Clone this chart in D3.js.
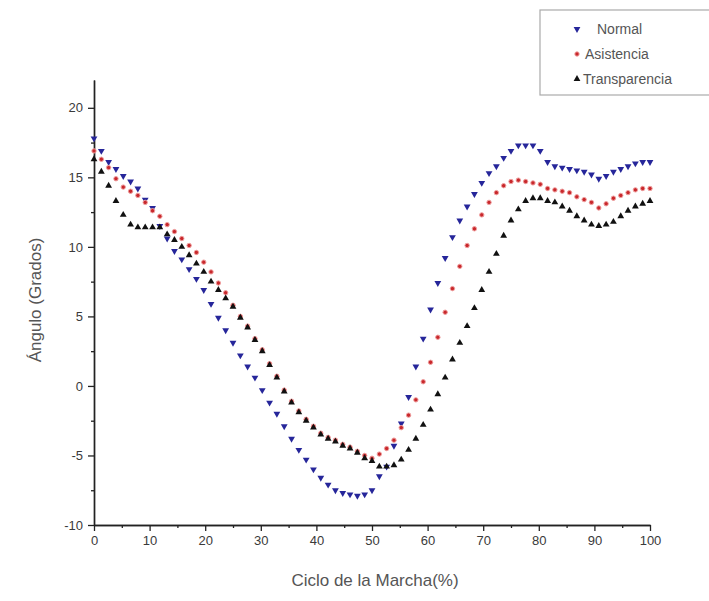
<!DOCTYPE html>
<html>
<head>
<meta charset="utf-8">
<script src="https://cdn.jsdelivr.net/npm/d3@7"></script>
<style>
  html, body { margin: 0; padding: 0; background: #fff; }
  svg { display: block; }
</style>
</head>
<body>
<svg id="chart" width="709" height="601"></svg>
<script>
const cyclePct = [0, 1.32, 2.63, 3.95, 5.26, 6.58, 7.89, 9.21, 10.53, 11.84, 13.16, 14.47, 15.79, 17.11, 18.42, 19.74, 21.05, 22.37, 23.68, 25, 26.32, 27.63, 28.95, 30.26, 31.58, 32.89, 34.21, 35.53, 36.84, 38.16, 39.47, 40.79, 42.11, 43.42, 44.74, 46.05, 47.37, 48.68, 50, 51.32, 52.63, 53.95, 55.26, 56.58, 57.89, 59.21, 60.53, 61.84, 63.16, 64.47, 65.79, 67.11, 68.42, 69.74, 71.05, 72.37, 73.68, 75, 76.32, 77.63, 78.95, 80.26, 81.58, 82.89, 84.21, 85.53, 86.84, 88.16, 89.47, 90.79, 92.11, 93.42, 94.74, 96.05, 97.37, 98.68, 100];

const normal = [17.8, 16.9, 16.1, 15.6, 15.1, 14.7, 14.2, 13.4, 12.8, 11.5, 10.6, 9.7, 9.1, 8.4, 7.7, 6.9, 5.9, 4.9, 4.0, 3.1, 2.2, 1.4, 0.6, -0.3, -1.2, -2.0, -2.9, -3.8, -4.6, -5.3, -6.0, -6.6, -7.1, -7.5, -7.7, -7.8, -7.9, -7.8, -7.5, -6.5, -5.8, -4.3, -2.7, -0.8, 1.4, 3.4, 5.5, 7.4, 9.2, 10.7, 11.9, 12.9, 13.8, 14.6, 15.3, 15.8, 16.4, 16.9, 17.3, 17.3, 17.3, 16.9, 16.1, 15.8, 15.7, 15.6, 15.5, 15.4, 15.2, 14.9, 15.1, 15.4, 15.6, 15.8, 16.0, 16.1, 16.1];

const asistencia = [16.9, 16.3, 15.7, 14.9, 14.3, 14.0, 13.7, 13.2, 12.6, 12.2, 11.6, 11.1, 10.6, 10.1, 9.6, 8.9, 8.2, 7.4, 6.7, 5.8, 5.0, 4.3, 3.4, 2.6, 1.6, 0.7, -0.3, -1.1, -1.8, -2.4, -2.9, -3.4, -3.7, -3.9, -4.2, -4.4, -4.7, -5.0, -5.2, -4.9, -4.5, -3.9, -3.0, -2.1, -1.0, 0.3, 1.7, 3.5, 5.3, 7.0, 8.6, 10.1, 11.3, 12.3, 13.2, 13.9, 14.4, 14.7, 14.8, 14.7, 14.6, 14.5, 14.2, 14.1, 14.0, 13.9, 13.6, 13.4, 13.2, 12.8, 13.1, 13.5, 13.7, 13.9, 14.1, 14.2, 14.2];

const transparencia = [16.3, 15.4, 14.4, 13.3, 12.3, 11.6, 11.4, 11.4, 11.4, 11.4, 10.9, 10.5, 10.0, 9.4, 8.8, 8.2, 7.5, 6.9, 6.3, 5.7, 4.9, 4.2, 3.3, 2.5, 1.5, 0.6, -0.4, -1.2, -1.9, -2.5, -3.0, -3.5, -3.8, -4.0, -4.3, -4.5, -4.8, -5.2, -5.4, -5.8, -5.8, -5.7, -5.3, -4.6, -3.8, -2.8, -1.7, -0.6, 0.6, 1.9, 3.1, 4.3, 5.6, 6.9, 8.2, 9.5, 10.8, 11.9, 12.7, 13.3, 13.5, 13.5, 13.3, 13.2, 12.9, 12.6, 12.2, 11.9, 11.6, 11.5, 11.6, 11.8, 12.2, 12.6, 12.9, 13.1, 13.3];

const seriesNames = ["Normal", "Asistencia", "Transparencia"];
const xMajorTicks = [0, 10, 20, 30, 40, 50, 60, 70, 80, 90, 100];
const xMinorTicks = [5, 15, 25, 35, 45, 55, 65, 75, 85, 95];
const yMajorTicks = [-10, -5, 0, 5, 10, 15, 20];
const yMinorTicks = [-7.5, -2.5, 2.5, 7.5, 12.5, 17.5];

const svg = d3.select("#chart");
const x = d3.scaleLinear().domain([0, 100]).range([94, 650]);
const y = d3.scaleLinear().domain([-10, 22]).range([525, 80]);

const font = "Arial, 'Liberation Sans', sans-serif";
const plainFmt = d => String(d);

// Axes
const xAxisG = svg.append("g").attr("transform", `translate(0,${y(-10)})`)
  .call(d3.axisBottom(x).tickValues(xMajorTicks).tickFormat(plainFmt).tickSize(6).tickPadding(5).tickSizeOuter(0));
const xMinorG = svg.append("g").attr("transform", `translate(0,${y(-10)})`)
  .call(d3.axisBottom(x).tickValues(xMinorTicks).tickSize(3).tickFormat("").tickSizeOuter(0));
const yAxisG = svg.append("g").attr("transform", `translate(${x(0)},0)`)
  .call(d3.axisLeft(y).tickValues(yMajorTicks).tickFormat(plainFmt).tickSize(6).tickPadding(5).tickSizeOuter(0));
const yMinorG = svg.append("g").attr("transform", `translate(${x(0)},0)`)
  .call(d3.axisLeft(y).tickValues(yMinorTicks).tickSize(3).tickFormat("").tickSizeOuter(0));

[xAxisG, xMinorG, yAxisG, yMinorG].forEach(g => {
  g.selectAll(".domain").attr("stroke", "#222").attr("stroke-width", 1.4);
  g.selectAll(".tick line").attr("stroke", "#222").attr("stroke-width", 1.3);
  g.selectAll(".tick text").attr("fill", "#3a3a3a").style("font-family", font).style("font-size", "13px");
});

// Axis titles
svg.append("text")
  .attr("x", 375).attr("y", 586)
  .attr("text-anchor", "middle")
  .style("font-family", font).style("font-size", "17px").attr("fill", "#555")
  .text("Ciclo de la Marcha(%)");
svg.append("text")
  .attr("transform", "translate(41,300) rotate(-90)")
  .attr("text-anchor", "middle")
  .style("font-family", font).style("font-size", "17px").attr("fill", "#555")
  .text("Ángulo (Grados)");

// Markers
const triDown = d3.symbol().type(d3.symbolTriangle).size(20);
const triUp = d3.symbol().type(d3.symbolTriangle).size(20);

const colors = { Normal: "#26269a", Asistencia: "#c8282c", Transparencia: "#111" };

svg.append("g").selectAll("path")
  .data(cyclePct.map((c, i) => [c, normal[i]]))
  .join("path")
  .attr("d", triDown())
  .attr("transform", d => `translate(${x(d[0])},${y(d[1])}) rotate(180)`)
  .attr("fill", colors.Normal);

svg.append("g").selectAll("circle")
  .data(cyclePct.map((c, i) => [c, asistencia[i]]))
  .join("circle")
  .attr("cx", d => x(d[0])).attr("cy", d => y(d[1]))
  .attr("r", 2.2)
  .attr("fill", colors.Asistencia)
  .attr("stroke", "#f0a0a0").attr("stroke-width", 1);

svg.append("g").selectAll("path")
  .data(cyclePct.map((c, i) => [c, transparencia[i]]))
  .join("path")
  .attr("d", triUp())
  .attr("transform", d => `translate(${x(d[0])},${y(d[1])})`)
  .attr("fill", colors.Transparencia);

// Legend
const lg = svg.append("g");
lg.append("rect")
  .attr("x", 540).attr("y", 10).attr("width", 180).attr("height", 85)
  .attr("fill", "#fff").attr("stroke", "#aaa").attr("stroke-width", 1.2);
const legendRows = [
  { name: seriesNames[0], sy: 29, tx: 597 },
  { name: seriesNames[1], sy: 54, tx: 585 },
  { name: seriesNames[2], sy: 79, tx: 583 }
];
lg.append("path").attr("d", triDown()).attr("transform", `translate(577,${legendRows[0].sy}) rotate(180)`).attr("fill", colors.Normal);
lg.append("circle").attr("cx", 577).attr("cy", legendRows[1].sy).attr("r", 2.2).attr("fill", colors.Asistencia).attr("stroke", "#f0a0a0");
lg.append("path").attr("d", triUp()).attr("transform", `translate(577,${legendRows[2].sy})`).attr("fill", colors.Transparencia);
lg.selectAll("text.lt").data(legendRows).join("text")
  .attr("class", "lt")
  .attr("x", d => d.tx).attr("y", d => d.sy + 5)
  .style("font-family", font).style("font-size", "14px").attr("fill", "#555")
  .text(d => d.name);
</script>
</body>
</html>
